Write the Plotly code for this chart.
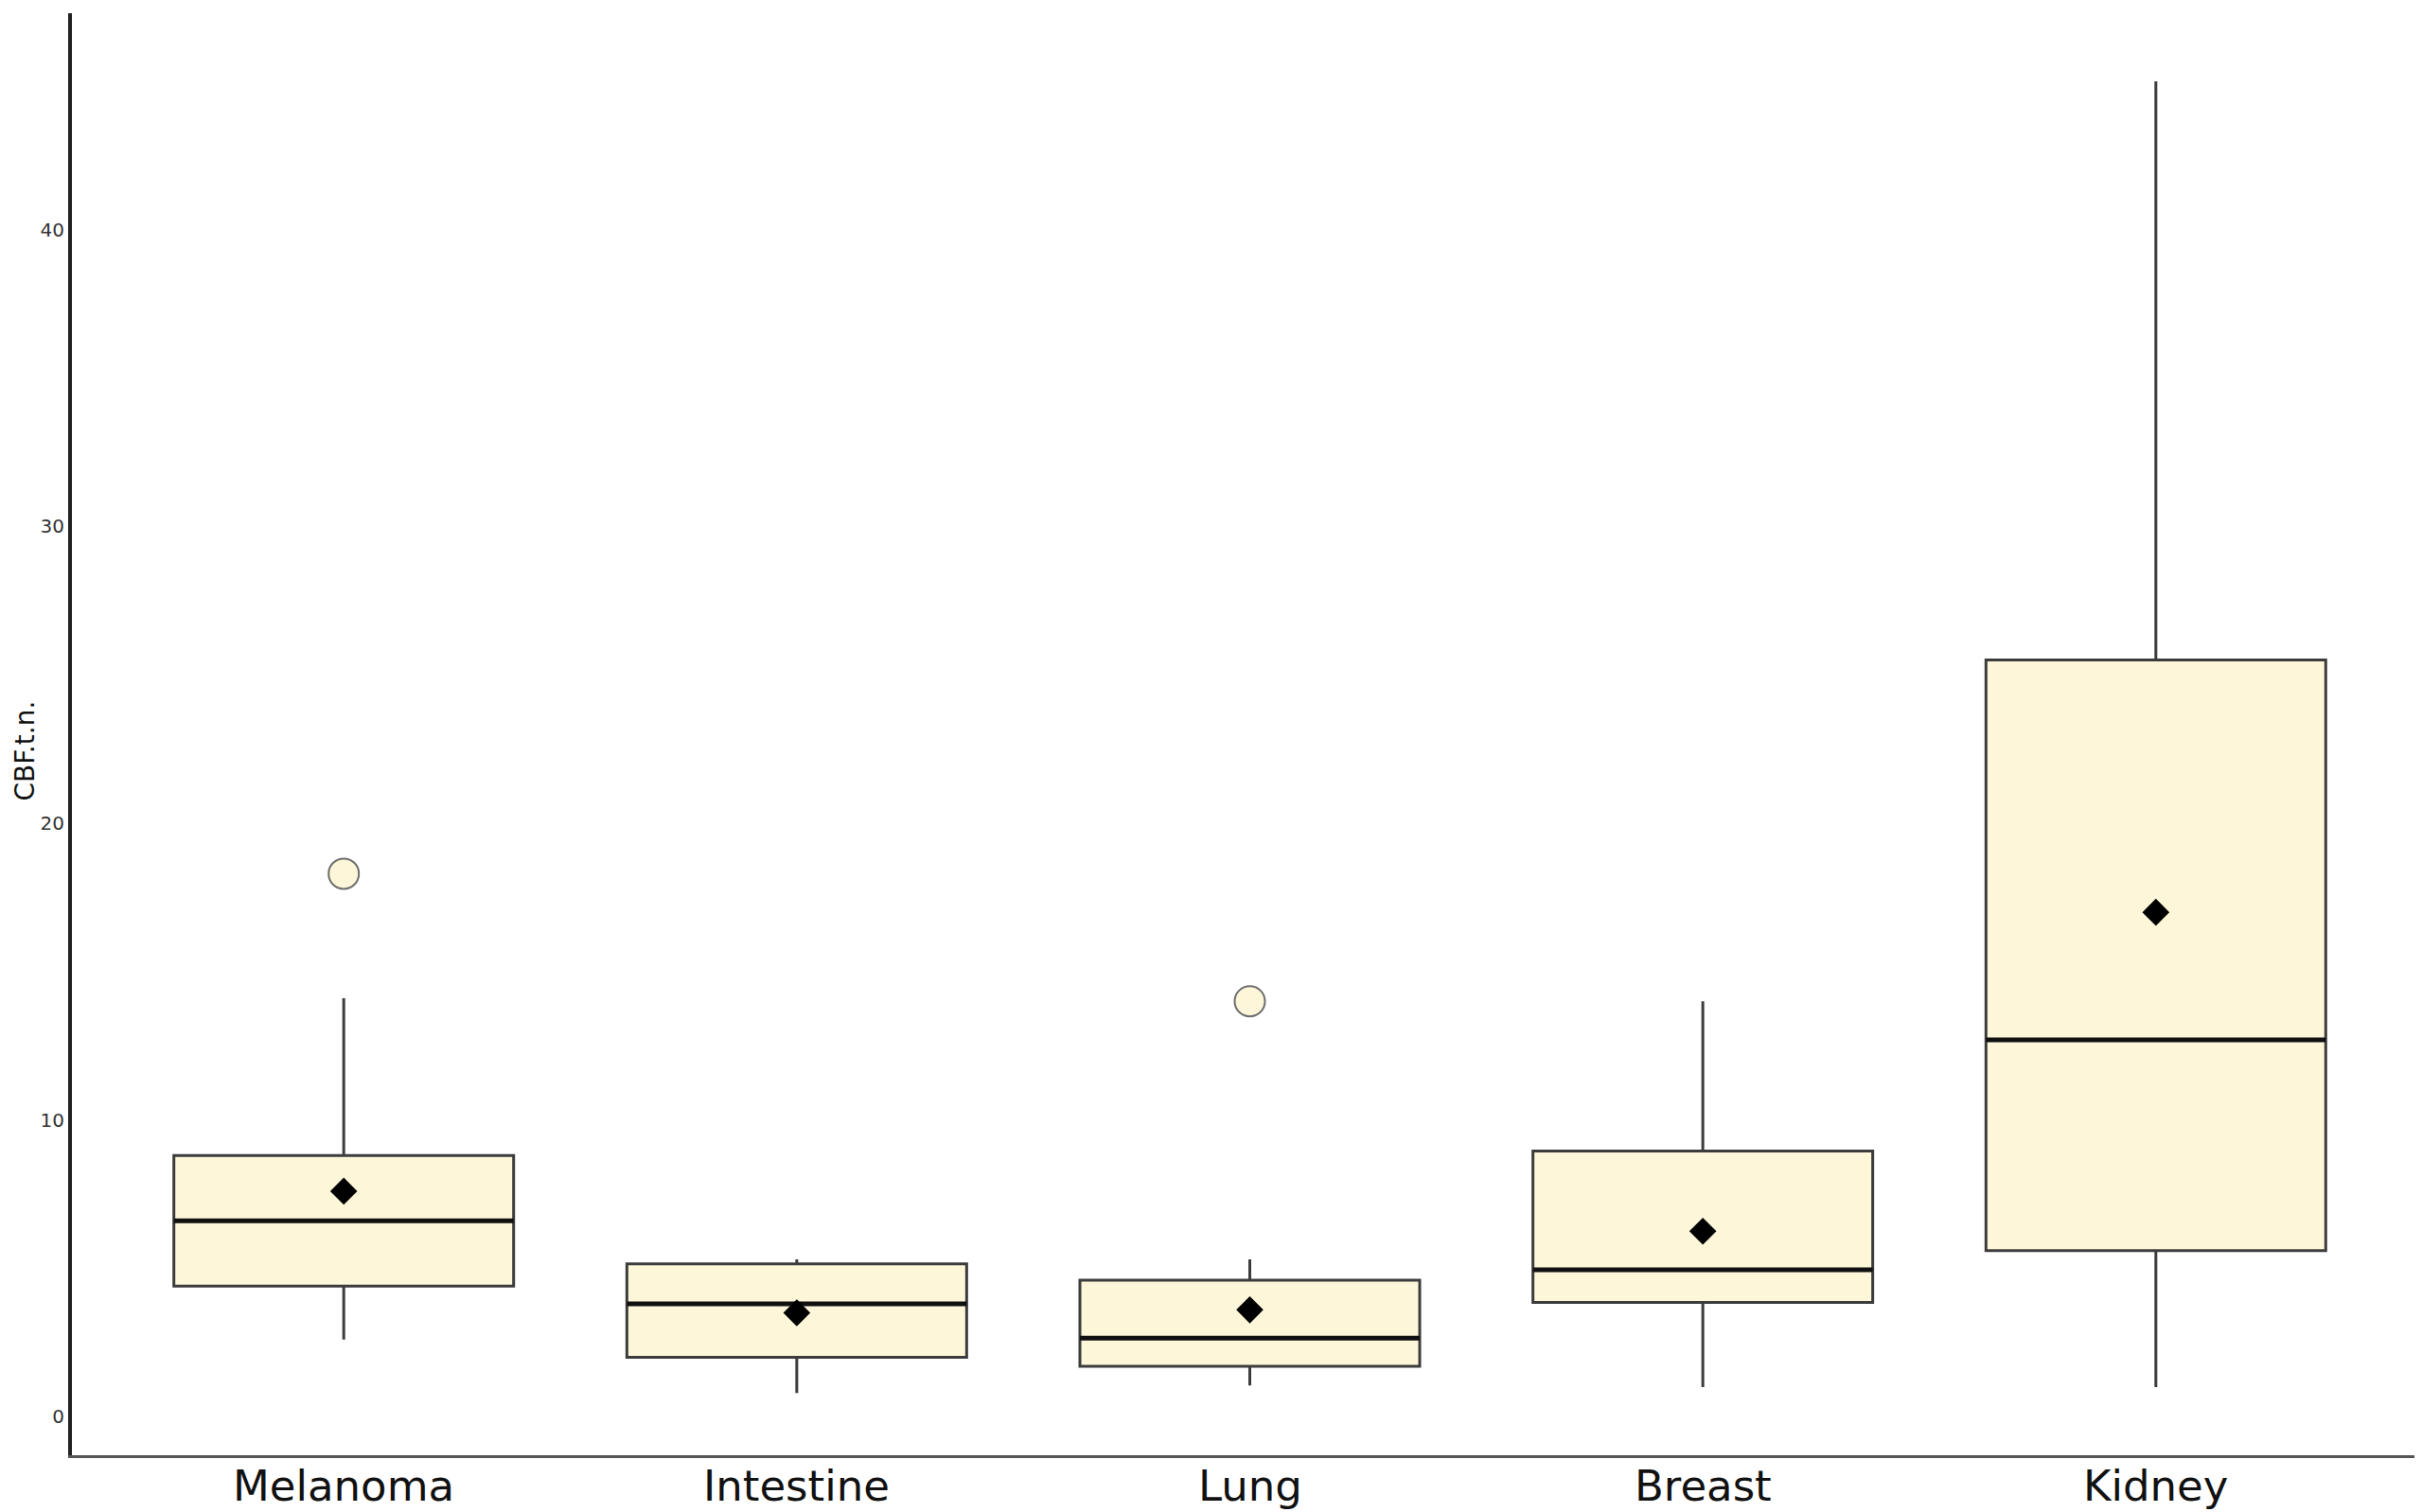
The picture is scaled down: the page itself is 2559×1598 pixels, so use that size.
import plotly.graph_objects as go

# --- données ---
groupes = ["Melanoma", "Intestine", "Lung", "Breast", "Kidney"]
q1 = [4.4, 2.0, 1.7, 3.85, 5.6]
mediane = [6.6, 3.8, 2.65, 4.95, 12.7]
q3 = [8.8, 5.15, 4.6, 8.95, 25.5]
moustache_basse = [2.6, 0.8, 1.05, 1.0, 1.0]
moustache_haute = [14.1, 5.3, 5.3, 14.0, 45.0]
moyenne = [7.6, 3.5, 3.6, 6.25, 17.0]

outlier_groupes = ["Melanoma", "Lung"]
outlier_valeurs = [18.3, 14.0]

y_ticks = [0, 10, 20, 30, 40]

fig = go.Figure()

# boîtes
fig.add_trace(go.Box(
    x=groupes, q1=q1, median=mediane, q3=q3,
    lowerfence=moustache_basse, upperfence=moustache_haute,
    fillcolor="#fdf6d8",
    line=dict(color="#3c3c3c", width=3),
    whiskerwidth=0,
    width=0.75,
    hoverinfo="skip",
    showlegend=False,
))

# médiane plus épaisse (boîte aplatie sur la médiane)
fig.add_trace(go.Box(
    x=groupes, q1=mediane, median=mediane, q3=mediane,
    lowerfence=mediane, upperfence=mediane,
    fillcolor="rgba(0,0,0,0)",
    line=dict(color="#111111", width=5),
    whiskerwidth=0,
    width=0.75,
    hoverinfo="skip",
    showlegend=False,
))

# moyennes
fig.add_trace(go.Scatter(
    x=groupes, y=moyenne,
    mode="markers",
    marker=dict(symbol="diamond", size=22, color="black"),
    showlegend=False,
))

# valeurs extrêmes
fig.add_trace(go.Scatter(
    x=outlier_groupes, y=outlier_valeurs,
    mode="markers",
    marker=dict(symbol="circle", size=32, color="#fdf6d8",
                line=dict(color="#6e6e6e", width=2)),
    showlegend=False,
))

# étiquettes des groupes, collées sous l'axe
for g in groupes:
    fig.add_annotation(
        text=g, x=g, xref="x", y=0, yref="paper",
        xanchor="center", yanchor="top", yshift=-4,
        showarrow=False,
        font=dict(family="DejaVu Sans", size=45, color="#111111"),
    )

fig.add_annotation(
    text="CBF.t.n.", textangle=-90,
    xref="paper", yref="paper", x=0, y=0.5,
    xanchor="right", yanchor="middle", xshift=-32, yshift=-18,
    showarrow=False,
    font=dict(family="DejaVu Sans", size=28, color="#111111"),
)

fig.update_layout(
    width=2559, height=1598,
    margin=dict(l=68, r=2, t=6, b=68),
    paper_bgcolor="white",
    plot_bgcolor="white",
    boxmode="overlay",
    xaxis=dict(
        range=[-0.6, 4.6],
        showgrid=False, zeroline=False,
        showline=True, linecolor="#555555", linewidth=3,
        ticks="", showticklabels=False,
    ),
    yaxis=dict(
        range=[-1.3, 47.3],
        tickvals=y_ticks,
        showgrid=False, zeroline=False,
        showline=True, linecolor="#222222", linewidth=4,
        ticks="", ticklen=0,
        tickfont=dict(family="DejaVu Sans", size=20, color="#333333"),
    ),
)

fig.write_html("out.html")
